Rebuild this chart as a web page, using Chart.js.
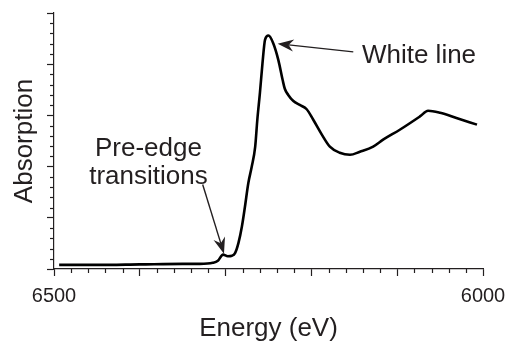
<!DOCTYPE html>
<html>
<head>
<meta charset="utf-8">
<title>X-ray absorption spectrum</title>
<script src="https://cdn.jsdelivr.net/npm/chart.js@4/dist/chart.umd.min.js"></script>
<style>
  html, body { margin: 0; padding: 0; background: #fff; }
  #wrap { width: 508px; height: 341px; position: relative; }
</style>
</head>
<body>
<div id="wrap"><canvas id="c"></canvas></div>
<script>
// Spectrum: photon energy (eV) and normalised absorption
const energy = [6506, 6550, 6600, 6650, 6670, 6685, 6691, 6697, 6702.5, 6707.5,
  6711, 6715, 6719, 6722.5, 6726.5, 6730.5, 6734.5, 6737, 6740, 6743,
  6746, 6750, 6755.5, 6761.5, 6766.5, 6769, 6773, 6779, 6787, 6794.5,
  6802, 6812, 6821.5, 6833, 6845, 6856.5, 6872, 6884, 6903, 6926.5,
  6936, 6950, 6969, 6993];
const absorption = [0.08, 0.08, 0.09, 0.10, 0.10, 0.12, 0.16, 0.28, 0.25, 0.26,
  0.31, 0.51, 0.83, 1.21, 1.68, 2.00, 2.39, 2.92, 3.44, 4.02,
  4.48, 4.56, 4.41, 4.08, 3.69, 3.52, 3.40, 3.28, 3.20, 3.12,
  2.92, 2.63, 2.39, 2.27, 2.23, 2.29, 2.39, 2.53, 2.72, 2.98,
  3.09, 3.05, 2.95, 2.82];

// Labelled x ticks (value -> printed text)
const xLabelValues = [6500, 7000];
const xLabelTexts = ['6500', '6000'];

// Callouts: text anchor and arrow tail/tip, all in data units
const callouts = [
  { lines: ['White line'], x: 6925.4, y: 4.03, tail: [6848.8, 4.24], tip: [6760.7, 4.40] },
  { lines: ['Pre-edge', 'transitions'], x: 6610.1, y: 2.20, tail: [6673.3, 1.65], tip: [6698.1, 0.30] }
];

const FONT = "'Liberation Sans', Arial, Helvetica, sans-serif";
const INK = '#231f20';

const data = energy.map((e, i) => ({ x: e, y: absorption[i] }));

function arrow(ctx, x1, y1, x2, y2) {
  const a = Math.atan2(y2 - y1, x2 - x1);
  const L = 16, W = 6, N = 11;
  const c = Math.cos(a), s = Math.sin(a);
  ctx.beginPath();
  ctx.moveTo(x1, y1);
  ctx.lineTo(x2 - c * N, y2 - s * N);
  ctx.stroke();
  ctx.beginPath();
  ctx.moveTo(x2, y2);
  ctx.lineTo(x2 - c * L + s * W, y2 - s * L - c * W);
  ctx.lineTo(x2 - c * N, y2 - s * N);
  ctx.lineTo(x2 - c * L - s * W, y2 - s * L + c * W);
  ctx.closePath();
  ctx.fill();
}

const extras = {
  id: 'extras',
  afterDraw(chart) {
    const { ctx, scales: { x, y } } = chart;
    ctx.save();
    ctx.strokeStyle = INK;
    ctx.lineWidth = 1.2;
    // minor ticks
    const bottom = y.getPixelForValue(0);
    for (let v = 6500; v <= 7000; v += 20) {
      if (v % 100 === 0) continue;
      const px = Math.round(x.getPixelForValue(v)) + 0.5;
      ctx.beginPath(); ctx.moveTo(px, bottom); ctx.lineTo(px, bottom + 4); ctx.stroke();
    }
    const left = x.getPixelForValue(6500);
    for (let k = 1; k < 25; k++) {
      if (k % 5 === 0) continue;
      const py = Math.round(y.getPixelForValue(k * 0.2)) + 0.5;
      ctx.beginPath(); ctx.moveTo(left, py); ctx.lineTo(left - 4, py); ctx.stroke();
    }
    // callouts
    ctx.fillStyle = INK;
    ctx.strokeStyle = INK;
    ctx.lineWidth = 1.4;
    ctx.font = '26px ' + FONT;
    ctx.textAlign = 'center';
    ctx.textBaseline = 'alphabetic';
    callouts.forEach(c => {
      const cx = x.getPixelForValue(c.x);
      let by = y.getPixelForValue(c.y);
      c.lines.forEach(t => { ctx.fillText(t, cx, by); by += 27.6; });
      arrow(ctx, x.getPixelForValue(c.tail[0]), y.getPixelForValue(c.tail[1]),
                 x.getPixelForValue(c.tip[0]), y.getPixelForValue(c.tip[1]));
    });
    ctx.restore();
  }
};

new Chart(document.getElementById('c'), {
  type: 'line',
  data: {
    datasets: [{
      data,
      borderColor: '#000',
      borderWidth: 2.6,
      pointRadius: 0,
      cubicInterpolationMode: 'monotone',
      fill: false
    }]
  },
  options: {
    responsive: true,
    maintainAspectRatio: false,
    devicePixelRatio: 1,
    animation: false,
    events: [],
    layout: { padding: { top: 13, right: 25, left: 0, bottom: 0 } },
    plugins: { legend: { display: false }, tooltip: { enabled: false } },
    scales: {
      x: {
        type: 'linear',
        min: 6500, max: 7000,
        afterFit(s) { s.height = 72; s.paddingLeft = 0; s.paddingRight = 0; },
        border: { display: true, color: INK, width: 1.2 },
        grid: { drawOnChartArea: false, drawTicks: true, tickLength: 7, color: INK, tickColor: INK, tickWidth: 1.2 },
        ticks: {
          stepSize: 100,
          autoSkip: false,
          maxRotation: 0,
          padding: 8,
          color: INK,
          font: { family: FONT, size: 20 },
          callback(v) {
            const i = xLabelValues.indexOf(v);
            return i >= 0 ? xLabelTexts[i] : '';
          }
        },
        title: {
          display: true,
          text: 'Energy (eV)',
          color: INK,
          font: { family: FONT, size: 26, lineHeight: 1 },
          padding: { top: 0, bottom: -1 }
        }
      },
      y: {
        min: 0, max: 5,
        afterFit(s) { s.width = 54; s.paddingTop = 0; s.paddingBottom = 0; },
        border: { display: true, color: INK, width: 1.2 },
        grid: { drawOnChartArea: false, drawTicks: true, tickLength: 7, color: INK, tickColor: INK, tickWidth: 1.2 },
        ticks: { stepSize: 1, padding: 0, callback: () => '' },
        title: {
          display: true,
          text: 'Absorption',
          color: INK,
          font: { family: FONT, size: 26, lineHeight: 1 },
          padding: { top: 12, bottom: 0 }
        }
      }
    }
  },
  plugins: [extras]
});
</script>
</body>
</html>
